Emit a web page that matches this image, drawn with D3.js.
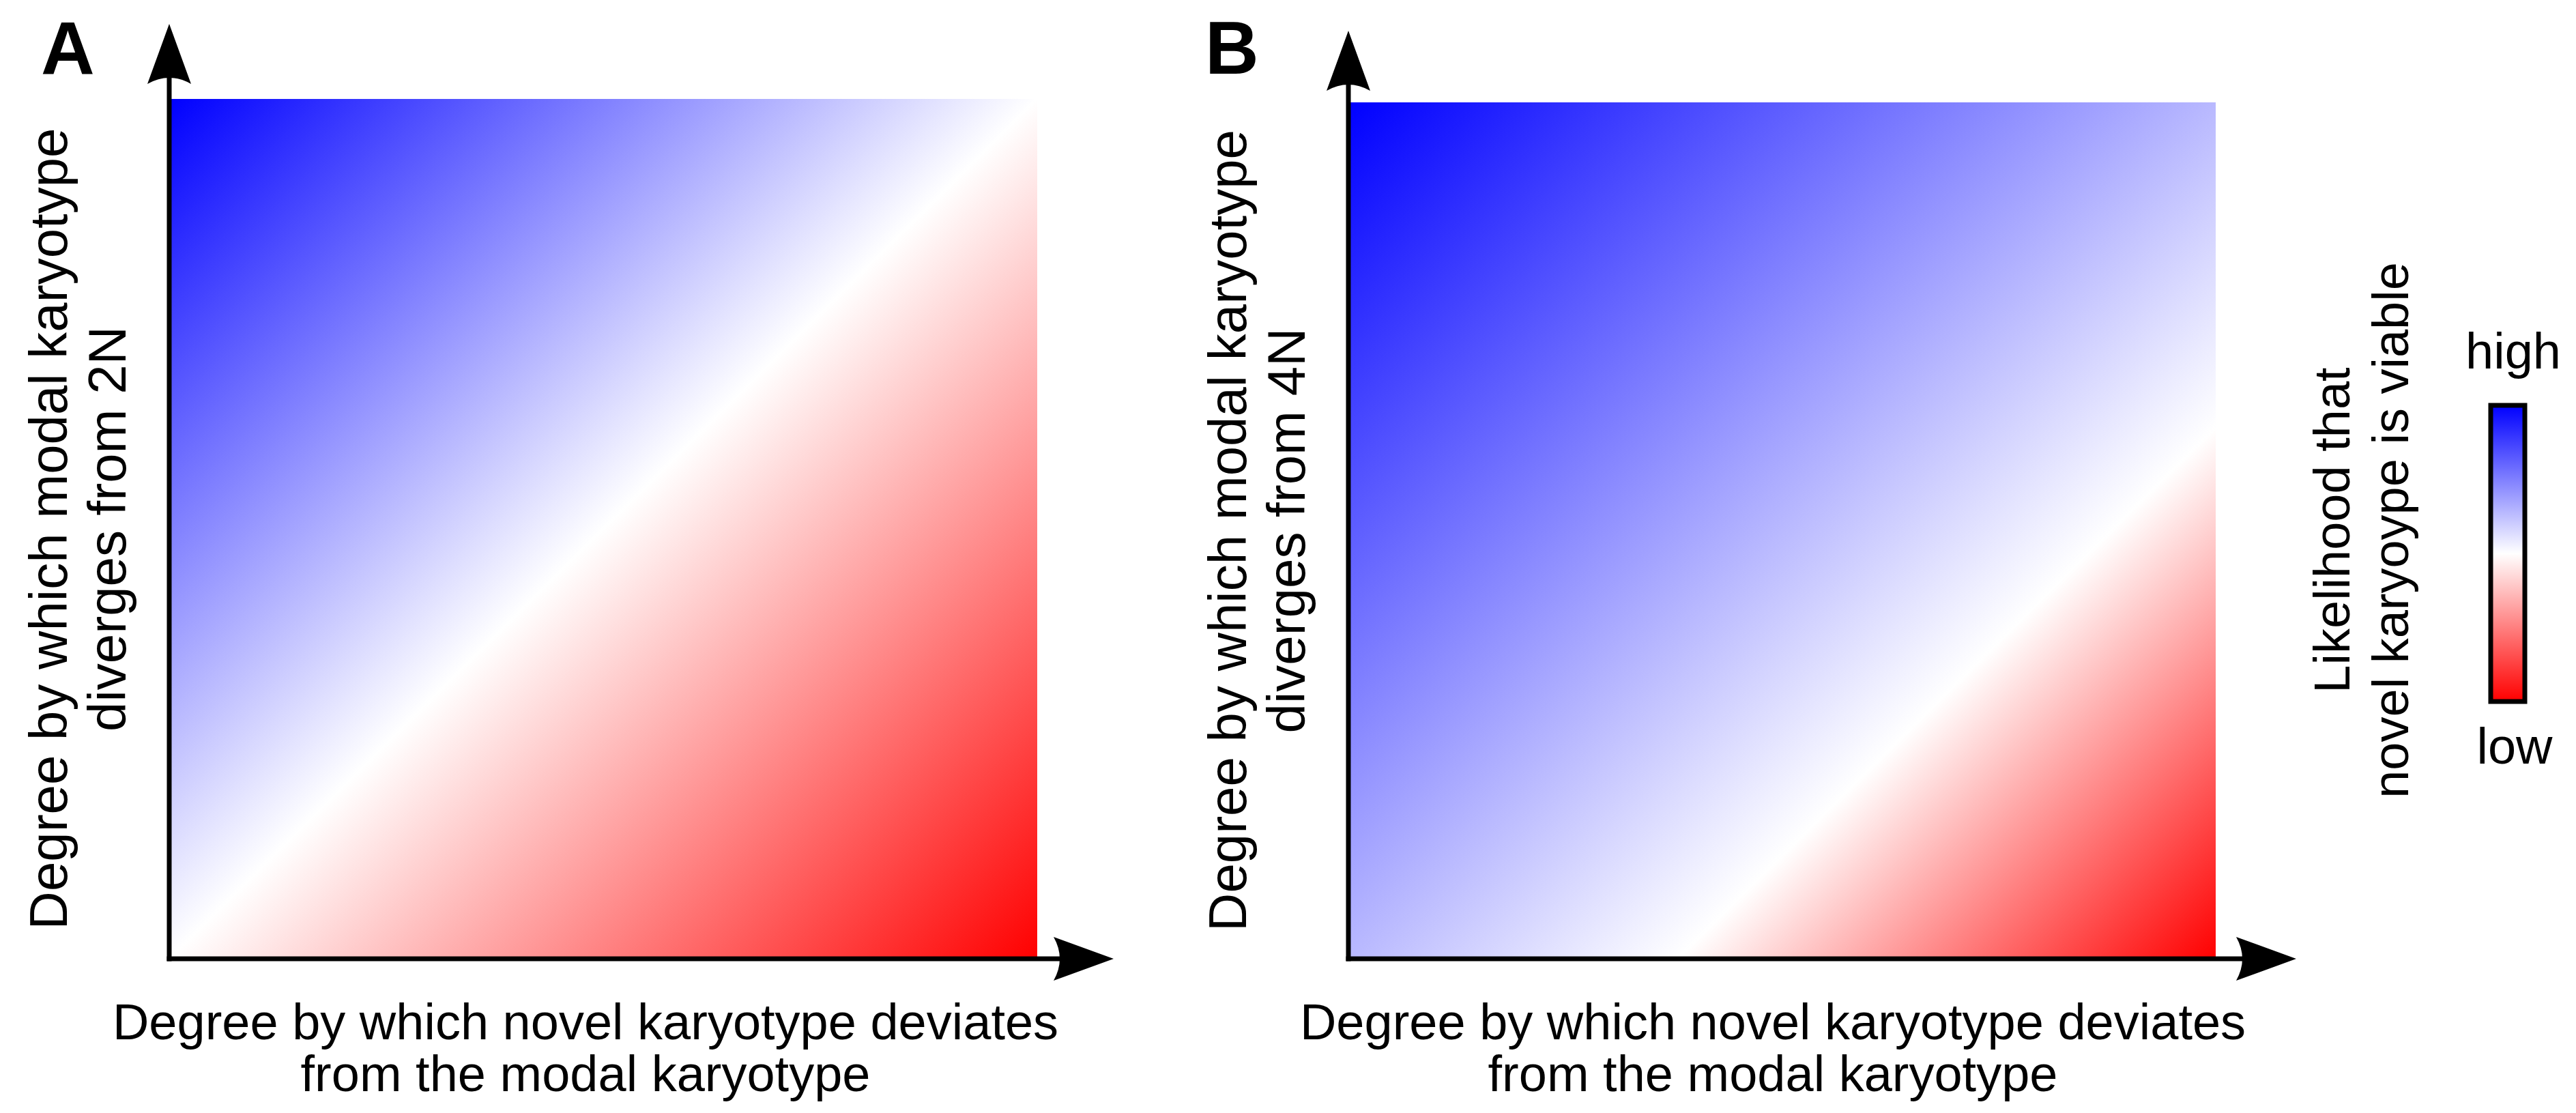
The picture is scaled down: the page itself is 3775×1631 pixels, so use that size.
<!DOCTYPE html>
<html>
<head>
<meta charset="utf-8">
<script src="https://cdn.jsdelivr.net/npm/d3@7"></script>
<style>
  html, body { margin: 0; padding: 0; background: #fff; }
  svg { display: block; }
  text { font-family: "Liberation Sans", Arial, Helvetica, sans-serif; fill: #000; }
</style>
</head>
<body>
<svg id="chart" width="3775" height="1631"></svg>
<script>
// ---------------- data ----------------
const panelLetters = ["A", "B"];
const yAxisLabelA = ["Degree by which modal karyotype", "diverges from 2N"];
const yAxisLabelB = ["Degree by which modal karyotype", "diverges from 4N"];
const xAxisLabel = ["Degree by which novel karyotype deviates", "from the modal karyotype"];
const legendTitle = ["Likelihood that", "novel karyoype is viable"];
const legendEnds = ["high", "low"];
// position along the top-left -> bottom-right diagonal (0..1) and the likelihood there
const diagonalPosA = [0, 0.5, 1];
const diagonalPosB = [0, 0.69, 1];
const likelihoodAtPos = [1, 0.5, 0];
// colour bar: position top->bottom and likelihood
const legendPos = [0, 0.5, 1];
const legendLikelihood = [1, 0.5, 0];

// ---------------- layout ----------------
const svg = d3.select("#chart");
const defs = svg.append("defs");
const color = d3.scaleLinear().domain([0, 0.5, 1]).range(["#ff0000", "#ffffff", "#0000ff"]);

const layout = {
  A: { x0: 248, x1: 1520, y0: 145, y1: 1405, yTip: 35, xTip: 1632, letterX: 60,
       yLab: yAxisLabelA, yLabX: 98, xLabX: 858, pos: diagonalPosA },
  B: { x0: 1976, x1: 3247, y0: 150, y1: 1405, yTip: 45, xTip: 3365, letterX: 1766,
       yLab: yAxisLabelB, yLabX: 1826, xLabX: 2598, pos: diagonalPosB }
};

const fontSize = 74;
const yFontSize = 78;
const yLineGap = 86;
const strokeW = 7;

panelLetters.forEach(key => {
  const L = layout[key];
  const x = d3.scaleLinear().domain([0, 1]).range([L.x0, L.x1]);
  const y = d3.scaleLinear().domain([0, 1]).range([L.y1, L.y0]);
  const g = svg.append("g");

  // diagonal gradient
  const grad = defs.append("linearGradient")
    .attr("id", "grad" + key)
    .attr("x1", 0).attr("y1", 0).attr("x2", 1).attr("y2", 1);
  grad.selectAll("stop").data(L.pos.map((p, i) => ({ p, v: likelihoodAtPos[i] })))
    .join("stop")
    .attr("offset", d => d.p)
    .attr("stop-color", d => color(d.v));

  g.append("rect")
    .attr("x", x(0)).attr("y", y(1))
    .attr("width", x(1) - x(0)).attr("height", y(0) - y(1))
    .attr("fill", `url(#grad${key})`);

  // axes
  const ox = x(0), oy = y(0);
  const ah = 88, aw = 32, notch = 18;
  g.append("line")
    .attr("x1", ox).attr("y1", oy + strokeW / 2)
    .attr("x2", ox).attr("y2", L.yTip + ah - 10)
    .attr("stroke", "#000").attr("stroke-width", strokeW);
  g.append("line")
    .attr("x1", ox - strokeW / 2).attr("y1", oy)
    .attr("x2", L.xTip - ah + 10).attr("y2", oy)
    .attr("stroke", "#000").attr("stroke-width", strokeW);
  // up arrow head
  const t = L.yTip;
  g.append("path")
    .attr("d", `M${ox},${t} L${ox + aw},${t + ah} Q${ox},${t + ah - notch} ${ox - aw},${t + ah} Z`)
    .attr("fill", "#000");
  // right arrow head
  const r = L.xTip;
  g.append("path")
    .attr("d", `M${r},${oy} L${r - ah},${oy - aw} Q${r - ah + notch},${oy} ${r - ah},${oy + aw} Z`)
    .attr("fill", "#000");

  // panel letter
  g.append("text")
    .attr("x", L.letterX).attr("y", 108)
    .attr("font-size", 109).attr("font-weight", "bold")
    .text(key);

  // y-axis label (rotated)
  const cy = (y(0) + y(1)) / 2;
  const yl = g.append("text")
    .attr("transform", `translate(${L.yLabX},${cy}) rotate(-90)`)
    .attr("text-anchor", "middle").attr("font-size", yFontSize);
  yl.selectAll("tspan").data(L.yLab).join("tspan")
    .attr("x", 0).attr("y", (d, i) => i * yLineGap).text(d => d);

  // x-axis label
  const xl = g.append("text")
    .attr("text-anchor", "middle").attr("font-size", fontSize);
  xl.selectAll("tspan").data(xAxisLabel).join("tspan")
    .attr("x", L.xLabX).attr("y", (d, i) => 1523 + i * 76).text(d => d);
});

// ---------------- legend ----------------
const lg = svg.append("g");
const legendY = d3.scaleLinear().domain([0, 1]).range([594, 1028]);
const lx0 = 3650, lw = 50;
const lgrad = defs.append("linearGradient").attr("id", "legendGrad")
  .attr("x1", 0).attr("y1", 0).attr("x2", 0).attr("y2", 1);
lgrad.selectAll("stop").data(legendPos.map((p, i) => ({ p, v: legendLikelihood[i] })))
  .join("stop")
  .attr("offset", d => d.p)
  .attr("stop-color", d => color(d.v));
lg.append("rect")
  .attr("x", lx0).attr("y", legendY(0))
  .attr("width", lw).attr("height", legendY(1) - legendY(0))
  .attr("fill", "url(#legendGrad)")
  .attr("stroke", "#000").attr("stroke-width", strokeW);

lg.append("text").attr("x", 3683).attr("y", 540)
  .attr("text-anchor", "middle").attr("font-size", fontSize).text(legendEnds[0]);
lg.append("text").attr("x", 3685).attr("y", 1119)
  .attr("text-anchor", "middle").attr("font-size", fontSize).text(legendEnds[1]);

const lt = lg.append("text")
  .attr("transform", `translate(3443,777) rotate(-90)`)
  .attr("text-anchor", "middle").attr("font-size", fontSize);
lt.selectAll("tspan").data(legendTitle).join("tspan")
  .attr("x", 0).attr("y", (d, i) => i * 86).text(d => d);
</script>
</body>
</html>
